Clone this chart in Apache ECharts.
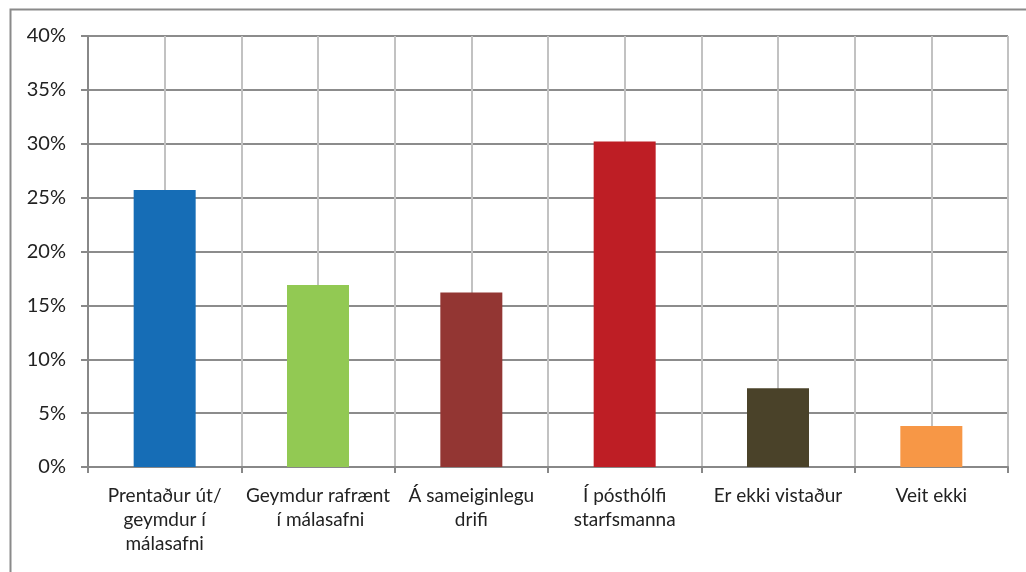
<!DOCTYPE html>
<html><head><meta charset="utf-8">
<script src="https://cdn.jsdelivr.net/npm/echarts@6/dist/echarts.min.js"></script>
<style>html,body{margin:0;padding:0;background:#fff}#c{width:1026px;height:572px}</style>
</head><body><div id="c"></div>
<script>
const categories = ["Prentaður út/\ngeymdur í\nmálasafni", "Geymdur rafrænt\n í málasafni", "Á sameiginlegu\ndrifi", "Í pósthólfi\nstarfsmanna", "Er ekki vistaður", "Veit ekki"];
const values = [25.7, 16.9, 16.2, 30.2, 7.3, 3.8];
const barColors = ["#166db6", "#92c953", "#933633", "#be1e25", "#4a4229", "#f79746"];
const yTicks = [0, 5, 10, 15, 20, 25, 30, 35, 40];
const halfCats = [];
for (let i = 0; i < categories.length * 2; i++) halfCats.push(String(i));

const chart = echarts.init(document.getElementById('c'), null, {renderer: 'canvas'});
const font = 'Lato, "Open Sans", sans-serif';
chart.setOption({
  animation: false,
  graphic: [{type: 'rect', left: 8, top: 7, shape: {width: 1100, height: 700}, style: {fill: 'none', stroke: '#8a8a8a', lineWidth: 2}, silent: true}],
  grid: {left: 88, right: 18, top: 36, bottom: 105},
  xAxis: [{
    type: 'category', data: categories, boundaryGap: true,
    axisLine: {lineStyle: {color: '#888', width: 2}},
    axisTick: {show: true, length: 6, lineStyle: {color: '#888', width: 2}},
    axisLabel: {color: '#222', fontFamily: font, fontSize: 19, lineHeight: 24, margin: 17, interval: 0},
    splitLine: {show: false}
  }, {
    type: 'category', data: halfCats, boundaryGap: true, position: 'bottom',
    axisLine: {show: false}, axisTick: {show: false}, axisLabel: {show: false},
    splitLine: {show: true, interval: 0, lineStyle: {color: '#c2c2c2', width: 2}}
  }],
  yAxis: {
    type: 'value', min: 0, max: 40, interval: 5,
    axisLine: {show: true, lineStyle: {color: '#888', width: 2}},
    axisTick: {show: true, length: 7, lineStyle: {color: '#888', width: 2}},
    axisLabel: {color: '#222', fontFamily: font, fontSize: 20, margin: 22,
      formatter: v => yTicks.includes(v) ? v + '%' : ''},
    splitLine: {show: true, lineStyle: {color: '#8c8c8c', width: 2}}
  },
  series: [{
    type: 'bar', xAxisIndex: 0, barWidth: 62,
    data: values.map((v, i) => ({value: v, itemStyle: {color: barColors[i]}})),
    z: 5
  }]
});
</script></body></html>
